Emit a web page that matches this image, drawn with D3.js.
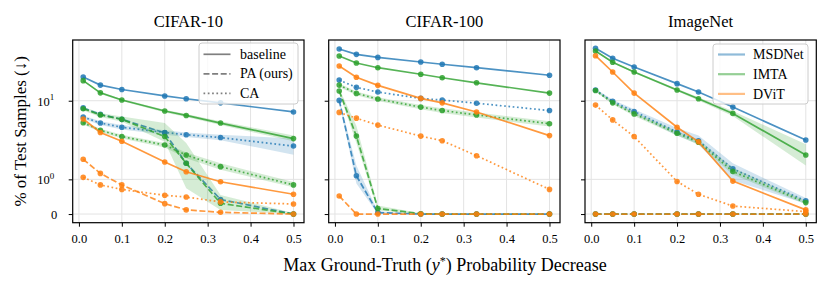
<!DOCTYPE html>
<html>
<head>
<meta charset="utf-8">
<script src="https://cdn.jsdelivr.net/npm/d3@7"></script>
<style>
  body { margin: 0; background: #fff; }
  text { font-family: "Liberation Serif", "DejaVu Serif", serif; fill: #000; }
</style>
</head>
<body>
<div id="chart"></div>
<script>
// x positions (max ground-truth probability decrease)
const xVals = [0.01, 0.05, 0.1, 0.2, 0.25, 0.33, 0.5];
const xTicks = [0, 0.1, 0.2, 0.3, 0.4, 0.5];
const datasets = ["CIFAR-10", "CIFAR-100", "ImageNet"];
const models = ["MSDNet", "IMTA", "DViT"];
const methods = ["baseline", "PA (ours)", "CA"];

// CIFAR-10
const c10_msd_base  = [20.0, 15.8, 13.9, 11.5, 10.6, 9.4, 7.2];
const c10_msd_pa    = [8.1, 6.7, 5.8, 3.9, 1.6, 0.42, 0];
const c10_msd_ca    = [6.2, 5.2, 4.6, 3.95, 3.7, 3.4, 2.65];
const c10_imta_base = [18.0, 12.6, 10.2, 7.4, 6.5, 5.2, 3.3];
const c10_imta_pa   = [7.9, 6.6, 5.8, 3.5, 1.6, 0.31, 0];
const c10_imta_ca   = [5.25, 4.2, 3.5, 2.73, 2.04, 1.45, 0.84];
const c10_dvit_base = [5.85, 3.95, 3.05, 1.66, 1.25, 0.93, 0.57];
const c10_dvit_pa   = [1.8, 1.19, 0.84, 0.30, 0.12, 0.05, 0];
const c10_dvit_ca   = [1.06, 0.84, 0.71, 0.54, 0.49, 0.35, 0.29];

// CIFAR-100
const c100_msd_base  = [45.5, 38.9, 35.6, 31.1, 29.1, 26.3, 21.1];
const c100_msd_pa    = [10.1, 1.11, 0.04, 0, 0, 0, 0];
const c100_msd_ca    = [18.3, 14.8, 12.9, 10.7, 10.2, 9.3, 7.5];
const c100_imta_base = [37.1, 30.2, 26.3, 21.7, 19.6, 16.9, 12.5];
const c100_imta_pa   = [13.3, 3.55, 0.16, 0.01, 0, 0, 0];
const c100_imta_ca   = [15.8, 12.4, 10.5, 8.3, 7.5, 6.6, 5.1];
const c100_dvit_base = [27.7, 19.9, 15.7, 10.7, 9.4, 7.2, 3.6];
const c100_dvit_pa   = [0.52, 0, 0, 0, 0, 0, 0];
const c100_dvit_ca   = [7.1, 6.0, 4.9, 3.55, 3.1, 2.0, 0.71];

// ImageNet
const in_msd_base  = [46.4, 34.6, 26.8, 16.5, 12.9, 8.3, 3.16];
const in_msd_pa    = [0, 0, 0, 0, 0, 0, 0];
const in_msd_ca    = [13.7, 9.8, 7.3, 4.0, 3.1, 1.36, 0.38];
const in_imta_base = [42.9, 30.8, 23.2, 13.7, 10.6, 6.9, 2.04];
const in_imta_pa   = [0, 0, 0, 0, 0, 0, 0];
const in_imta_ca   = [13.5, 9.4, 6.8, 3.85, 2.96, 1.26, 0.33];
const in_dvit_base = [37.4, 23.2, 12.5, 4.6, 3.0, 0.95, 0.12];
const in_dvit_pa   = [0, 0, 0, 0, 0, 0, 0];
const in_dvit_ca   = [8.8, 5.7, 3.5, 0.94, 0.57, 0.23, 0.07];

// confidence bands (lower, upper) where visible
const c10_imta_pa_lo   = [7.5, 6.2, 5.4, 3.0, 0.74, 0.115, 0];
const c10_imta_pa_hi   = [8.4, 7.0, 6.3, 5.2, 2.9, 0.55, 0.03];
const c10_msd_ca_lo    = [5.9, 4.9, 4.3, 3.7, 3.45, 3.15, 2.06];
const c10_msd_ca_hi    = [6.5, 5.5, 4.9, 4.2, 3.95, 3.7, 3.3];
const c10_imta_ca_lo   = [5.0, 4.0, 3.3, 2.55, 1.85, 1.32, 0.77];
const c10_imta_ca_hi   = [5.5, 4.4, 3.7, 2.9, 2.2, 1.6, 0.92];
const c10_imta_base_lo = [17.5, 12.2, 9.9, 7.1, 6.2, 4.9, 3.05];
const c10_imta_base_hi = [18.5, 13.0, 10.5, 7.7, 6.8, 5.5, 3.6];
const c100_msd_pa_lo   = [9.5, 0.88, 0, 0, 0, 0, 0];
const c100_msd_pa_hi   = [10.7, 1.5, 0.08, 0, 0, 0, 0];
const c100_imta_pa_lo  = [12.5, 2.9, 0.1, 0, 0, 0, 0];
const c100_imta_pa_hi  = [14.2, 4.8, 0.25, 0.02, 0, 0, 0];
const c100_imta_ca_lo  = [15.0, 11.7, 9.9, 7.8, 7.0, 6.1, 4.7];
const c100_imta_ca_hi  = [16.6, 13.1, 11.1, 8.8, 8.0, 7.1, 5.5];
const in_imta_base_lo  = [42.0, 30.0, 22.5, 13.2, 10.1, 6.4, 1.5];
const in_imta_base_hi  = [43.8, 31.6, 23.9, 14.2, 11.1, 7.4, 2.8];
const in_msd_ca_lo     = [13.2, 9.3, 6.8, 3.6, 2.8, 0.97, 0.3];
const in_msd_ca_hi     = [14.2, 10.3, 7.8, 4.5, 3.6, 1.6, 0.46];
const in_imta_ca_lo    = [13.0, 9.0, 6.4, 3.6, 2.75, 1.15, 0.28];
const in_imta_ca_hi    = [14.0, 9.8, 7.2, 4.1, 3.2, 1.4, 0.38];

const series = [
  // [dataset, model, method, values, lo, hi]
  [0, 0, 0, c10_msd_base], [0, 0, 1, c10_msd_pa], [0, 0, 2, c10_msd_ca, c10_msd_ca_lo, c10_msd_ca_hi],
  [0, 1, 0, c10_imta_base, c10_imta_base_lo, c10_imta_base_hi], [0, 1, 1, c10_imta_pa, c10_imta_pa_lo, c10_imta_pa_hi],
  [0, 1, 2, c10_imta_ca, c10_imta_ca_lo, c10_imta_ca_hi],
  [0, 2, 0, c10_dvit_base], [0, 2, 1, c10_dvit_pa], [0, 2, 2, c10_dvit_ca],
  [1, 0, 0, c100_msd_base], [1, 0, 1, c100_msd_pa, c100_msd_pa_lo, c100_msd_pa_hi], [1, 0, 2, c100_msd_ca],
  [1, 1, 0, c100_imta_base], [1, 1, 1, c100_imta_pa, c100_imta_pa_lo, c100_imta_pa_hi],
  [1, 1, 2, c100_imta_ca, c100_imta_ca_lo, c100_imta_ca_hi],
  [1, 2, 0, c100_dvit_base], [1, 2, 1, c100_dvit_pa], [1, 2, 2, c100_dvit_ca],
  [2, 0, 0, in_msd_base], [2, 0, 1, in_msd_pa], [2, 0, 2, in_msd_ca, in_msd_ca_lo, in_msd_ca_hi],
  [2, 1, 0, in_imta_base, in_imta_base_lo, in_imta_base_hi], [2, 1, 1, in_imta_pa],
  [2, 1, 2, in_imta_ca, in_imta_ca_lo, in_imta_ca_hi],
  [2, 2, 0, in_dvit_base], [2, 2, 1, in_dvit_pa], [2, 2, 2, in_dvit_ca]
];

const colors = ["#1f77b4", "#2ca02c", "#ff7f0e"];
const dashes = [null, "6,2.6", "1.7,2.6"];

const width = 831, height = 291;
const panelLeft = [72.7, 328.7, 585];
const panelW = 231.3;
const plotTop = 40, plotBottom = 222.7;

// symlog-like transform (linear below 1, log10 above)
const L = 0.4415;
const tf = v => v <= 1 ? v * L : L + Math.log10(v);

const svg = d3.select("#chart").append("svg")
  .attr("width", width).attr("height", height);

const y = d3.scaleLinear().domain([-0.11, 2.214]).range([plotBottom, plotTop]);

datasets.forEach((name, di) => {
  const x = d3.scaleLinear()
    .domain([-0.0145, 0.5245])
    .range([panelLeft[di], panelLeft[di] + panelW]);
  const g = svg.append("g");

  // grid
  g.selectAll(".gx").data(xTicks).join("line")
    .attr("x1", d => x(d)).attr("x2", d => x(d))
    .attr("y1", plotTop).attr("y2", plotBottom)
    .attr("stroke", "#e3e3e3").attr("stroke-width", 1);
  g.selectAll(".gy").data([0, 1, 10]).join("line")
    .attr("x1", x.range()[0]).attr("x2", x.range()[1])
    .attr("y1", d => y(tf(d))).attr("y2", d => y(tf(d)))
    .attr("stroke", "#e3e3e3").attr("stroke-width", 1);

  const clip = "clip" + di;
  svg.append("clipPath").attr("id", clip).append("rect")
    .attr("x", x.range()[0]).attr("y", plotTop).attr("width", panelW).attr("height", plotBottom - plotTop);
  const plot = g.append("g").attr("clip-path", `url(#${clip})`);

  series.filter(s => s[0] === di).forEach(s => {
    const [, mi, me, vals, lo, hi] = s;
    const col = colors[mi];
    if (lo) {
      const area = d3.area()
        .x((d, i) => x(xVals[i]))
        .y0((d, i) => y(tf(lo[i])))
        .y1((d, i) => y(tf(hi[i])));
      plot.append("path").datum(vals).attr("d", area)
        .attr("fill", col).attr("fill-opacity", 0.2).attr("stroke", "none");
    }
    const line = d3.line().x((d, i) => x(xVals[i])).y(d => y(tf(d)));
    plot.append("path").datum(vals).attr("d", line)
      .attr("fill", "none").attr("stroke", col).attr("stroke-opacity", 0.8)
      .attr("stroke-width", 1.7)
      .attr("stroke-dasharray", dashes[me]);
    plot.selectAll(null).data(vals).join("circle")
      .attr("cx", (d, i) => x(xVals[i])).attr("cy", d => y(tf(d)))
      .attr("r", 2.8).attr("fill", col).attr("fill-opacity", 0.85);
  });

  // frame
  g.append("rect")
    .attr("x", x.range()[0]).attr("y", plotTop).attr("width", panelW).attr("height", plotBottom - plotTop)
    .attr("fill", "none").attr("stroke", "#000").attr("stroke-width", 1.2);

  // x axis
  const xa = g.append("g").attr("transform", `translate(0,${plotBottom})`)
    .call(d3.axisBottom(x).tickValues(xTicks).tickSize(4).tickFormat(d3.format(".1f")));
  xa.select(".domain").remove();
  xa.selectAll("text").attr("font-size", 12.5).attr("dy", "1.05em")
    .style("font-family", "'Liberation Serif', serif");

  // y axis
  const ya = g.append("g").attr("transform", `translate(${x.range()[0]},0)`)
    .call(d3.axisLeft(y).tickValues([0, tf(1), tf(10)]).tickSize(4).tickFormat(""));
  ya.select(".domain").remove();
  if (di === 0) {
    ya.selectAll(".tick").each(function (d, i) {
      const t = d3.select(this).append("text")
        .attr("font-size", 12.5).attr("dy", "0.35em").attr("text-anchor", "end")
        .attr("fill", "#000");
      if (i === 0) {
        t.attr("x", -15.5).text("0");
      } else {
        t.attr("x", -18.5);
        t.append("tspan").text("10");
        t.append("tspan").attr("font-size", 9).attr("dy", "-0.6em").text(i === 1 ? "0" : "1");
      }
    });
  }

  // title
  svg.append("text")
    .attr("x", x.range()[0] + panelW / 2).attr("y", 27)
    .attr("text-anchor", "middle").attr("font-size", 16.5).text(name);
});

// y label
svg.append("text")
  .attr("transform", `translate(26,${(plotTop + plotBottom) / 2}) rotate(-90)`)
  .attr("text-anchor", "middle").attr("font-size", 17)
  .text("% of Test Samples (↓)");

// x label
const xl = svg.append("text")
  .attr("x", 445).attr("y", 271)
  .attr("text-anchor", "middle").attr("font-size", 18);
xl.append("tspan").text("Max Ground-Truth (");
xl.append("tspan").attr("font-style", "italic").text("y");
xl.append("tspan").attr("font-size", 12).attr("dy", "-0.5em").text("*");
xl.append("tspan").attr("dy", "0.33em").text(") Probability Decrease");

// legend: methods (CIFAR-10)
const lg1 = svg.append("g").attr("transform", "translate(199,43)");
lg1.append("rect").attr("width", 99).attr("height", 61).attr("rx", 3)
  .attr("fill", "#fff").attr("fill-opacity", 0.8).attr("stroke", "#ccc");
methods.forEach((m, i) => {
  const yy = 11.3 + i * 19.5;
  lg1.append("line").attr("x1", 4.5).attr("x2", 31.5).attr("y1", yy).attr("y2", yy)
    .attr("stroke", "#7f7f7f").attr("stroke-width", 1.7)
    .attr("stroke-dasharray", dashes[i]);
  lg1.append("text").attr("x", 41).attr("y", yy).attr("dy", "0.33em")
    .attr("font-size", 14).text(m);
});

// legend: models (ImageNet)
const lg2 = svg.append("g").attr("transform", "translate(713,44)");
lg2.append("rect").attr("width", 95).attr("height", 60).attr("rx", 3)
  .attr("fill", "#fff").attr("fill-opacity", 0.8).attr("stroke", "#ccc");
models.forEach((m, i) => {
  const yy = 10.5 + i * 19.7;
  lg2.append("line").attr("x1", 5).attr("x2", 32).attr("y1", yy).attr("y2", yy)
    .attr("stroke", colors[i]).attr("stroke-opacity", 0.5).attr("stroke-width", 2.2);
  lg2.append("text").attr("x", 40).attr("y", yy).attr("dy", "0.33em")
    .attr("font-size", 14).text(m);
});
</script>
</body>
</html>
